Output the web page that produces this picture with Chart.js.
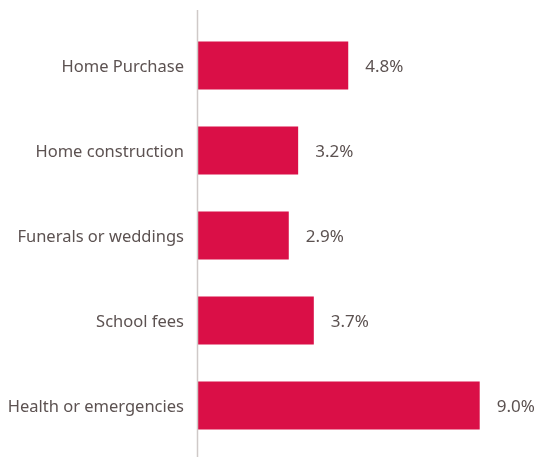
<!DOCTYPE html>
<html><head><meta charset="utf-8">
<script src="https://cdn.jsdelivr.net/npm/chart.js@4"></script>
<style>html,body{margin:0;padding:0;background:#fff}#w{width:535px;height:457px}</style>
</head><body><div id="w"><canvas id="c"></canvas></div>
<script>
const categories = ["Home Purchase","Home construction","Funerals or weddings","School fees","Health or emergencies"];
const values = [4.8, 3.2, 2.9, 3.7, 9.0];
const valueLabels = ["4.8%","3.2%","2.9%","3.7%","9.0%"];
const TEXT = "#5c5251";
const FONT = "'Noto Sans', sans-serif";

const extras = {
  id: 'extras',
  afterDatasetsDraw(chart) {
    const ctx = chart.ctx;
    const ca = chart.chartArea;
    const xs = chart.scales.x, ys = chart.scales.y;
    const x0 = xs.getPixelForValue(0);
    ctx.save();
    ctx.strokeStyle = '#cfc9c8';
    ctx.lineWidth = 1.5;
    ctx.beginPath();
    ctx.moveTo(x0 - 0.5, ca.top - 13);
    ctx.lineTo(x0 - 0.5, ca.bottom + 9);
    ctx.stroke();
    ctx.fillStyle = TEXT;
    ctx.textBaseline = 'middle';
    ctx.font = "16.5px " + FONT;
    ctx.textAlign = 'right';
    chart.data.labels.forEach((lab, i) => {
      ctx.fillText(lab, x0 - 14, ys.getPixelForValue(i) + 1.5);
    });
    ctx.font = "17px " + FONT;
    ctx.textAlign = 'left';
    chart.getDatasetMeta(0).data.forEach((bar, i) => {
      ctx.fillText(valueLabels[i], bar.x + 17, bar.y + 1.5);
    });
    ctx.restore();
  }
};

new Chart(document.getElementById('c'), {
  type: 'bar',
  data: { labels: categories, datasets: [{ data: values, backgroundColor: '#da0f47', borderWidth: 0, categoryPercentage: 1, barPercentage: 0.565 }] },
  options: {
    indexAxis: 'y',
    responsive: true, maintainAspectRatio: false, animation: false,
    layout: { padding: { top: 23, bottom: 9, right: 24, left: 198 } },
    plugins: { legend: { display: false }, tooltip: { enabled: false } },
    scales: {
      x: { min: 0, max: 10, display: false },
      y: { display: false }
    }
  },
  plugins: [extras]
});
</script></body></html>
